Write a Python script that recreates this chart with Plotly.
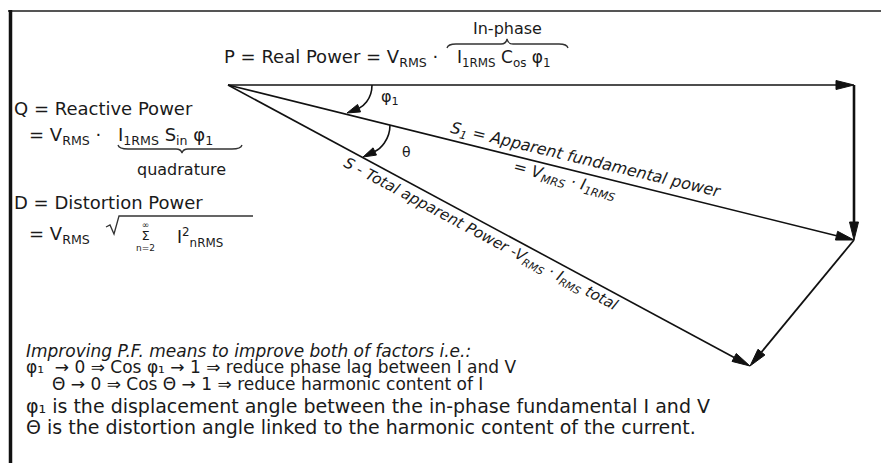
import plotly.graph_objects as go

# -------------------- DIAGRAM DATA (pixel units, y grows downward) --------------------
W, H = 889, 463
PAGE = 8  # browser body margin, the axes are shifted by it

origin = [228, 85]
p_tip = [854, 85]
s1_tip = [854, 240]
s_tip = [750, 366]

# (tail, tip, colour, line width)
arrows = [
    (origin, p_tip, "#4d4d4d", 2.2),
    (p_tip, s1_tip, "#111111", 2.6),
    (origin, s1_tip, "#111111", 1.6),
    (s1_tip, s_tip, "#111111", 1.8),
    (origin, s_tip, "#111111", 1.6),
]

# angle arcs as cubic curves: start, ctrl1, ctrl2, end
phi_arc = [(372, 85), (372, 100), (362, 107), (347, 113)]
theta_arc = [(390, 125), (390, 140), (380, 149), (363, 157)]

FONT = "DejaVu Sans"
INK = "#1a1a1a"


def arrow_head(tail, tip, length=18, half=4.5):
    dx, dy = tip[0] - tail[0], tip[1] - tail[1]
    d = (dx * dx + dy * dy) ** 0.5
    ux, uy = dx / d, dy / d
    bx, by = tip[0] - ux * length, tip[1] - uy * length
    xs = [tip[0], bx - uy * half, bx + uy * half, tip[0]]
    ys = [tip[1], by + ux * half, by - ux * half, tip[1]]
    return xs, ys, (bx, by)


def label(fig, x, y, text, size=18, angle=0, anchor="left"):
    fig.add_annotation(
        x=x, y=y, text=text, showarrow=False,
        xanchor=anchor, yanchor="middle", textangle=angle,
        font=dict(family=FONT, size=size, color=INK)
    )


fig = go.Figure()

# -------------------- VECTORS --------------------
for tail, tip, colour, width in arrows:
    xs, ys, base = arrow_head(tail, tip)
    fig.add_trace(go.Scatter(
        x=[tail[0], base[0]], y=[tail[1], base[1]], mode="lines",
        line=dict(color=colour, width=width), hoverinfo="skip"
    ))
    fig.add_trace(go.Scatter(
        x=xs, y=ys, mode="lines", fill="toself", fillcolor="#111111",
        line=dict(color="#111111", width=1), hoverinfo="skip"
    ))

# -------------------- ANGLE ARCS --------------------
for arc in [phi_arc, theta_arc]:
    (x0, y0), (x1, y1), (x2, y2), (x3, y3) = arc
    xs, ys, base = arrow_head(arc[2], arc[3], length=13, half=4)
    fig.add_shape(
        type="path", xref="x", yref="y",
        path=f"M {x0},{y0} C {x1},{y1} {x2},{y2} {base[0]},{base[1]}",
        line=dict(color="#111111", width=1.6)
    )
    fig.add_trace(go.Scatter(
        x=xs, y=ys, mode="lines", fill="toself", fillcolor="#111111",
        line=dict(color="#111111", width=1), hoverinfo="skip"
    ))

# -------------------- BRACES, ROOT, FRAME --------------------
fig.add_shape(type="path", xref="x", yref="y",
              path="M 447,48 Q 448,44 456,44 L 501,44 Q 506,44 507,39 Q 508,44 513,44 "
                   "L 559,44 Q 567,44 568,48",
              line=dict(color="#333333", width=1.3))
fig.add_shape(type="path", xref="x", yref="y",
              path="M 118,145 Q 119,149 128,149 L 176,149 Q 181,149 182,153 Q 183,149 188,149 "
                   "L 232,149 Q 241,149 242,145",
              line=dict(color="#333333", width=1.3))
fig.add_shape(type="path", xref="x", yref="y",
              path="M 106,227 L 110,225 L 114,234 L 119,216 L 253,216",
              line=dict(color="#333333", width=1.3))

fig.add_shape(type="line", xref="x", yref="y", x0=8, y0=11, x1=W + PAGE, y1=11,
              line=dict(color="#555555", width=2))
fig.add_shape(type="line", xref="x", yref="y", x0=10.5, y0=10, x1=10.5, y1=H + PAGE,
              line=dict(color="#111111", width=3.5))

# -------------------- TEXT --------------------
label(fig, 507, 28, "In-phase", size=16, anchor="center")
label(fig, 222, 58, "P = Real Power = V<sub>RMS</sub> ·", size=18)
label(fig, 455, 58, "I<sub>1RMS</sub> C<sub>os</sub> φ<sub>1</sub>", size=17)

label(fig, 12, 108, "Q = Reactive Power", size=18)
label(fig, 27, 136, "= V<sub>RMS</sub> ·", size=18)
label(fig, 116, 136, "I<sub>1RMS</sub> S<sub>in</sub> φ<sub>1</sub>", size=18)
label(fig, 181, 169, "quadrature", size=16, anchor="center")

label(fig, 12, 202, "D = Distortion Power", size=18)
label(fig, 27, 235, "= V<sub>RMS</sub>", size=18)
label(fig, 145, 236, "∞<br><span style='font-size:13px'>Σ</span><br>n=2", size=9, anchor="center")
label(fig, 175, 237, "I<sup>2</sup><sub>nRMS</sub>", size=17)

label(fig, 390, 97, "φ<sub>1</sub>", size=16, anchor="center")
label(fig, 406, 152, "θ", size=14, anchor="center")

label(fig, 586, 160, "<i>S<sub>1</sub> = Apparent fundamental power</i>", size=16, angle=13.5, anchor="center")
label(fig, 565, 180, "<i>= V<sub>MRS</sub> · I<sub>1RMS</sub></i>", size=16, angle=15, anchor="center")
label(fig, 481, 234, "<i>S - Total apparent Power -V<sub>RMS</sub> · I<sub>RMS</sub> total</i>", size=15, angle=28, anchor="center")

label(fig, 24, 351, "<i>Improving P.F. means to improve both of factors i.e.:</i>", size=17)
label(fig, 24, 367, "φ₁  → 0 ⇒ Cos φ₁ → 1 ⇒ reduce phase lag between I and V", size=17)
label(fig, 50, 384, "Θ → 0 ⇒ Cos Θ → 1 ⇒ reduce harmonic content of I", size=17)
label(fig, 24, 406, "φ₁ is the displacement angle between the in-phase fundamental I and V", size=19)
label(fig, 24, 427, "Θ is the distortion angle linked to the harmonic content of the current.", size=19)

fig.update_layout(
    width=W, height=H,
    margin=dict(l=0, r=0, t=0, b=0),
    paper_bgcolor="white", plot_bgcolor="white",
    showlegend=False,
    xaxis=dict(range=[PAGE, W + PAGE], visible=False, fixedrange=True),
    yaxis=dict(range=[H + PAGE, PAGE], visible=False, fixedrange=True),
)

fig.write_html("out.html")
